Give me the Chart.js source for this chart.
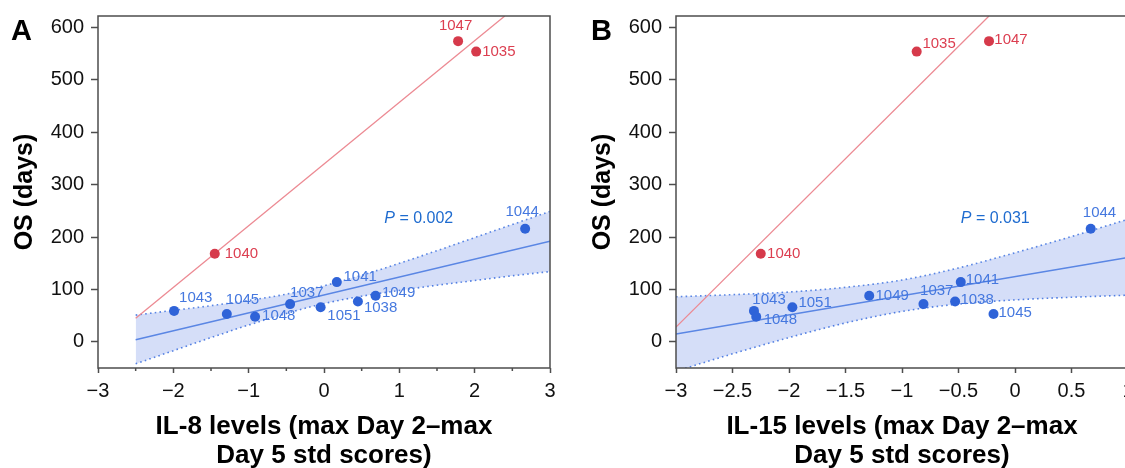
<!DOCTYPE html>
<html><head><meta charset="utf-8">
<script src="https://cdn.jsdelivr.net/npm/chart.js@4.4.1/dist/chart.umd.min.js"></script>
<style>
html,body{margin:0;padding:0;background:#fff;overflow:hidden;width:1125px;height:468px;}
#wa{position:absolute;left:0;top:0;width:562px;height:468px;}
#wb{position:absolute;left:578px;top:0;width:562px;height:468px;}
</style></head><body>
<div id="wa"><canvas id="ca" width="562" height="468"></canvas></div>
<div id="wb"><canvas id="cb" width="562" height="468"></canvas></div>
<script>
// ---- data ----
const patientIds = ['1035','1037','1038','1040','1041','1043','1044','1045','1047','1048','1049','1051'];
const osDays     = [554, 72, 77, 168, 114, 59, 216, 53, 574, 48, 88, 66];
const il8Scores  = [2.02, -0.45, 0.45, -1.45, 0.17, -1.99, 2.67, -1.29, 1.78, -0.915, 0.685, -0.045];
const il15Scores = [-0.87, -0.81, -0.53, -2.25, -0.48, -2.31, 0.67, -0.19, -0.23, -2.29, -1.29, -1.97];
const redGroup   = ['1035','1040','1047'];

const il8RedFitX  = [-2.5, 2.4];   const il8RedFitY  = [45, 622];
const il8BlueFitX = [-2.5, 3];     const il8BlueFitY = [4, 192];
const il8BandX     = [-2.5, -2, -1.5, -1, -0.5, 0, 0.5, 1, 1.5, 2, 2.5, 3];
const il8BandUpper = [51, 60, 69, 79, 91, 107, 127, 150, 174, 199, 224, 249];
const il8BandLower = [-42, -17, 8, 32, 54, 73, 87, 98, 108, 117, 126, 134];

const il15RedFitX  = [-3, -0.23];  const il15RedFitY  = [28, 622];
const il15BlueFitX = [-3, 1];      const il15BlueFitY = [15, 161];
const il15BandX     = [-3, -2.5, -2, -1.5, -1, -0.5, 0, 0.5, 1];
const il15BandUpper = [86, 90, 95, 104, 118, 141, 170, 201, 234];
const il15BandLower = [-56, -23, 8, 36, 58, 72, 80, 85, 89];

const yTickValues  = [0, 100, 200, 300, 400, 500, 600];
const xTicksA      = [-3, -2, -1, 0, 1, 2, 3];
const xMinorA      = [-2.5, -1.5, -0.5, 0.5, 1.5, 2.5];
const xTicksB      = [-3, -2.5, -2, -1.5, -1, -0.5, 0, 0.5, 1];
const pValueA = 'P = 0.002', pValueB = 'P = 0.031';

// ---- styles ----
const FONT = "'Liberation Sans', Arial, Helvetica, sans-serif";
Chart.defaults.font.family = FONT;
const C = {
  blueDot:'#2f63d8', blueLine:'#5a86e4', blueText:'#4578df', band:'rgba(45,90,220,0.2)',
  redDot:'#d63a4b', redLine:'#ec8a93', redText:'#dc3e50', pText:'#1e6bcf', axis:'#4d4d4d'
};
const labelStyleA = {
  '1040':[10,0,'left'], '1043':[5,-12.6,'left'], '1045':[-1,-13.7,'left'], '1048':[7,-1,'left'],
  '1037':[0,-11,'left'], '1051':[6.7,8.3,'left'], '1041':[6.7,-5.6,'left'], '1038':[6,6.3,'left'],
  '1049':[6.3,-3,'left'], '1044':[-3,-16.6,'center'], '1047':[-2.5,-15,'center'], '1035':[6,0,'left']
};
const labelStyleB = {
  '1040':[6.3,0,'left'], '1043':[-1.6,-10.7,'left'], '1048':[7.4,3.3,'left'], '1051':[6,-4.4,'left'],
  '1049':[6.3,0,'left'], '1037':[-3.4,-13,'left'], '1041':[5,-2,'left'], '1038':[5.3,-1.6,'left'],
  '1045':[5,-1.4,'left'], '1044':[8.8,-16.3,'center'], '1035':[5.7,-7.3,'left'], '1047':[5.3,-1,'left']
};

function fmt(v){ return String(Math.round(v*10)/10).replace('-', '\u2212'); }
function pts(xs, ys){ return xs.map((x,i)=>({x:x, y:ys[i]})); }

const decorPlugin = {
  id:'decor',
  afterDatasetsDraw(chart, args, o){
    const {ctx, scales:{x,y}} = chart;
    ctx.save();
    ctx.font = `15px ${FONT}`;
    ctx.textBaseline = 'middle';
    o.ids.forEach((id,i)=>{
      const st = o.labels[id]; if(!st) return;
      const px = x.getPixelForValue(o.xs[i]), py = y.getPixelForValue(o.ys[i]);
      ctx.fillStyle = redGroup.includes(id) ? C.redText : C.blueText;
      ctx.textAlign = st[2];
      ctx.fillText(id, px + st[0], py + st[1]);
    });
    // P value annotation
    const ppx = x.getPixelForValue(o.pPos[0]), ppy = y.getPixelForValue(o.pPos[1]);
    ctx.fillStyle = C.pText; ctx.textAlign='left';
    ctx.font = `italic 16px ${FONT}`;
    ctx.fillText('P', ppx, ppy);
    const w = ctx.measureText('P').width;
    ctx.font = `16px ${FONT}`;
    ctx.fillText(o.pText.slice(1), ppx + w, ppy);
    ctx.restore();
  },
  afterDraw(chart, args, o){
    const {ctx, chartArea:{left,top,right,bottom}, scales:{x}} = chart;
    ctx.save();
    ctx.strokeStyle = C.axis; ctx.lineWidth = 1.5;
    ctx.strokeRect(left, top, right-left, bottom-top);
    (o.minor||[]).forEach(v=>{
      const px = x.getPixelForValue(v);
      ctx.beginPath(); ctx.moveTo(px,bottom); ctx.lineTo(px,bottom+3); ctx.stroke();
    });
    ctx.fillStyle='#000'; ctx.font = `bold 29px ${FONT}`;
    ctx.textBaseline='alphabetic'; ctx.textAlign='left';
    ctx.fillText(o.letter, o.letterX, 39.5);
    ctx.restore();
  }
};

function makePanel(id, xs, cfg){
  const blue = [], red = [];
  patientIds.forEach((p,i)=>{ (redGroup.includes(p)?red:blue).push({x:xs[i], y:osDays[i]}); });
  new Chart(document.getElementById(id), {
    type:'scatter',
    data:{ datasets:[
      {type:'scatter', data:blue, backgroundColor:C.blueDot, borderWidth:0, pointRadius:5},
      {type:'scatter', data:red, backgroundColor:C.redDot, borderWidth:0, pointRadius:5},
      {type:'line', data:pts(cfg.blueFitX, cfg.blueFitY), borderColor:C.blueLine, borderWidth:1.4, pointRadius:0, fill:false, clip:0},
      {type:'line', data:pts(cfg.redFitX, cfg.redFitY), borderColor:C.redLine, borderWidth:1.3, pointRadius:0, fill:false, clip:0},
      {type:'line', data:pts(cfg.bandX, cfg.bandU), borderColor:C.blueLine, borderWidth:1.6, borderDash:[1.6,3.2],
        pointRadius:0, fill:'+1', backgroundColor:C.band, tension:0.4, cubicInterpolationMode:'monotone', clip:0},
      {type:'line', data:pts(cfg.bandX, cfg.bandL), borderColor:C.blueLine, borderWidth:1.6, borderDash:[1.6,3.2],
        pointRadius:0, fill:false, tension:0.4, cubicInterpolationMode:'monotone', clip:0}
    ]},
    options:{
      responsive:false, animation:false, devicePixelRatio:1, events:[],
      layout:{padding:{top:16,right:12,bottom:0,left:0}},
      plugins:{ legend:{display:false}, tooltip:{enabled:false},
        decor:{ids:patientIds, xs:xs, ys:osDays, labels:cfg.labels, pPos:cfg.pPos, pText:cfg.pText,
               minor:cfg.minor, letter:cfg.letter, letterX:cfg.letterX} },
      scales:{
        x:{ type:'linear', min:cfg.xMin, max:cfg.xMax,
          afterBuildTicks:s=>{ s.ticks = cfg.xTicks.map(v=>({value:v})); },
          afterFit:s=>{ s.height = 100; s.paddingLeft=0; s.paddingRight=0; s.paddingTop=0; s.paddingBottom=0; },
          ticks:{ callback:v=>fmt(v), font:{size:20}, color:'#111', padding:6, maxRotation:0, autoSkip:false },
          grid:{ drawOnChartArea:false, drawTicks:true, tickLength:5, color:C.axis, tickColor:C.axis, tickWidth:1.5 },
          border:{display:false},
          title:{ display:true, text:cfg.xTitle, color:'#000',
            font:{size:26, weight:'bold', lineHeight:'29px'}, padding:{top:0,bottom:-2} }
        },
        y:{ type:'linear', min:-50, max:622,
          afterBuildTicks:s=>{ s.ticks = yTickValues.map(v=>({value:v})); },
          afterFit:s=>{ s.width = 98; s.paddingTop=0; s.paddingBottom=0; s.paddingLeft=0; s.paddingRight=0; },
          ticks:{ callback:v=>fmt(v), font:{size:20}, color:'#111', padding:7, autoSkip:false },
          grid:{ drawOnChartArea:false, drawTicks:true, tickLength:7, color:C.axis, tickColor:C.axis, tickWidth:1.5 },
          border:{display:false},
          title:{ display:true, text:'OS (days)', color:'#000',
            font:{size:25, weight:'bold', lineHeight:1.2}, padding:{top:10,bottom:0} }
        }
      }
    },
    plugins:[decorPlugin]
  });
}

makePanel('ca', il8Scores, {
  xMin:-3, xMax:3, xTicks:xTicksA, minor:xMinorA,
  redFitX:il8RedFitX, redFitY:il8RedFitY, blueFitX:il8BlueFitX, blueFitY:il8BlueFitY,
  bandX:il8BandX, bandU:il8BandUpper, bandL:il8BandLower,
  labels:labelStyleA, pPos:[0.8, 235], pText:pValueA, letter:'A', letterX:11,
  xTitle:['IL-8 levels (max Day 2\u2013max', 'Day 5 std scores)']
});
makePanel('cb', il15Scores, {
  xMin:-3, xMax:1, xTicks:xTicksB, minor:[],
  redFitX:il15RedFitX, redFitY:il15RedFitY, blueFitX:il15BlueFitX, blueFitY:il15BlueFitY,
  bandX:il15BandX, bandU:il15BandUpper, bandL:il15BandLower,
  labels:labelStyleB, pPos:[-0.48, 235], pText:pValueB, letter:'B', letterX:13,
  xTitle:['IL-15 levels (max Day 2\u2013max', 'Day 5 std scores)']
});
</script>
</body></html>
